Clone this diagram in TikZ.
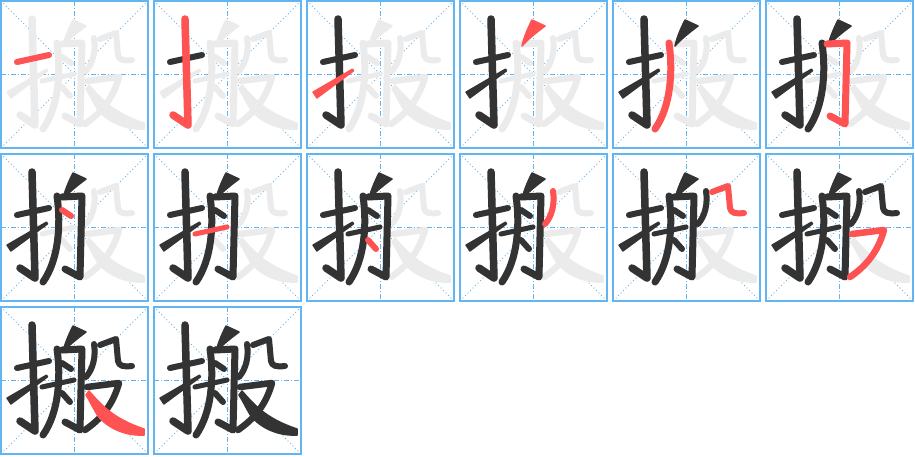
\documentclass[tikz,border=0pt]{standalone}
\usepackage{tikz}

\definecolor{gridblue}{HTML}{62B5F0}
\definecolor{ink}{HTML}{333333}
\definecolor{current}{HTML}{FF5252}
\definecolor{ghost}{HTML}{EBEBEB}

% one stroke of the character, #1 = stroke number, #2 = colour
\newcommand\drawstroke[2]{%
\ifcase#1\or
  \draw[pen=#2, line width=6] (16,61) -- (48,54);
\or
  \draw[pen=#2, line width=7.5] (31,18) -- (34,124) -- (19,114);
\or
  \filldraw[blade=#2] (6.1,91.1) -- (9.9,96.9) -- (46.5,69.8) -- (45.5,68.2) -- cycle;
\or
  \filldraw[blade=#2] (72,19) -- (85,25) .. controls (77,31) and (68,38) .. (62,45) .. controls (64,36) and (68,27) .. cycle;
\or
  \draw[pen=#2, line width=7] (56,42) .. controls (60,70) and (58,105) .. (42,128);
\or
  \draw[pen=#2, line width=7] (61,43) -- (81,42) -- (79,123) -- (64,115);
\or
  \draw[pen=#2, line width=6] (61,56) -- (70,62);
\or
  \draw[pen=#2, line width=5] (41,80) -- (73,73);
\or
  \draw[pen=#2, line width=6] (61,86) -- (69,95);
\or
  \draw[pen=#2, line width=6] (93,37) .. controls (95,50) and (92,62) .. (85,70);
\or
  \draw[pen=#2, line width=6] (99,38) -- (115,32) -- (117,54) .. controls (118,59) and (122,60) .. (131,59);
\or
  \draw[pen=#2, line width=6.5] (86,80) -- (118,76) .. controls (112,98) and (100,112) .. (84,123);
\or
  \filldraw[blade=#2] (88,84) .. controls (101,99) and (113,112) .. (143,122) -- (143,128) .. controls (124,129) and (107,121) .. (97,109) .. controls (92,101) and (89,94) .. (85,88) -- cycle;
\fi}

\begin{document}
\begin{tikzpicture}[
    x=1pt, y=-1pt, % one unit = one pixel, y downwards
    border/.style={draw=gridblue, line width=2},
    midline/.style={draw=gridblue, line width=0.8, dash pattern=on 5pt off 2pt on 1pt off 2pt},
    diagline/.style={draw=gridblue, line width=0.8, dash pattern=on 1pt off 2.5pt},
    pen/.style={draw=#1, line cap=round, line join=round},
    blade/.style={draw=#1, fill=#1, line width=1.5, line join=round}
]

\useasboundingbox (0,0) rectangle (915,456);

%%%%% 14 cells, stroke by stroke
\foreach \k in {1,...,14} {
  \pgfmathtruncatemacro\col{mod(\k-1,6)}
  \pgfmathtruncatemacro\row{(\k-1)/6}
  \pgfmathtruncatemacro\prev{\k-1}
  \begin{scope}[shift={(1+153*\col, 1+153*\row)}]
    % guide lines
    \draw[midline] (0,73.5) -- (147,73.5);
    \draw[midline] (73.5,0) -- (73.5,147);
    \draw[diagline] (0,0) -- (147,147);
    \draw[diagline] (147,0) -- (0,147);
    \draw[border] (0,0) rectangle (147,147);
    % grey character behind
    \foreach \s in {1,...,13} {\drawstroke{\s}{ghost}}
    % strokes already written
    \ifnum\k>1
      \foreach \s in {1,...,\prev} {\drawstroke{\s}{ink}}
    \fi
    % current stroke
    \drawstroke{\k}{current}
  \end{scope}
}

\end{tikzpicture}
\end{document}
